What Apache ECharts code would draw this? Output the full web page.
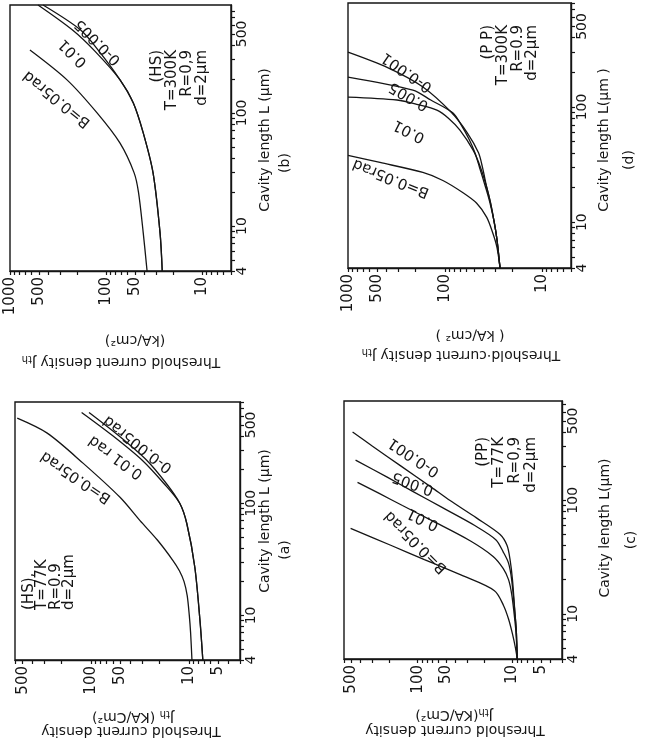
<!DOCTYPE html>
<html><head><meta charset="utf-8">
<script src="https://cdn.jsdelivr.net/npm/echarts@6/dist/echarts.min.js"></script>
<style>html,body{margin:0;padding:0;background:#fff}#c{width:656px;height:751px}</style>
</head><body><div id="c"></div>
<script>
// ---------- tick values ----------
const jTicks77 = [3,4,5,6,7,8,9,10,20,30,40,50,60,70,80,90,100,200,300,400,500,600];
const jTicks300 = [5,6,7,8,9,10,20,30,40,50,60,70,80,90,100,200,300,400,500,600,700,800,900,1000];
const lTicks = [4,5,6,7,8,9,10,20,30,40,50,60,70,80,90,100,200,300,400,500,600,700,800];
const jLabelsA = [5,10,50,100,500];
const jLabelsB = [10,50,100,500,1000];
const jLabelsC = [5,10,50,100,500];
const jLabelsD = [10,100,500,1000];
const lLabels = [4,10,100,500];

// ---------- panel (a) HS, 77K ----------
const aB005_L = [4, 7, 10, 15, 20, 25, 31, 47, 70, 113, 228, 422, 574];
const aB005_J = [9.3, 9.6, 9.9, 10.4, 11.2, 12.5, 14.6, 21, 31.6, 50.6, 121, 281, 569];
const aB001_L = [4, 9, 27, 66, 100, 150, 242, 400, 646];
const aB001_J = [7.2, 7.7, 8.7, 10.5, 12.4, 18, 30, 60, 125];
const aB0_L   = [4, 9, 27, 66, 100, 150, 242, 400, 646];
const aB0_J   = [7.2, 7.7, 8.7, 10.5, 12.4, 17, 27, 52, 105];

// ---------- panel (b) HS, 300K ----------
const bB005_L = [4, 8.7, 20, 29.5, 54, 100, 196, 360];
const bB005_J = [37.4, 41, 46, 51, 71.5, 124, 255, 620];
const bB001_L = [4, 8.7, 29.5, 66.6, 122.5, 196, 350, 543, 900];
const bB001_J = [26, 27.4, 32.4, 41, 52, 71.5, 130, 225, 511];
const bB0_L   = [4, 8.7, 29.5, 66.6, 122.5, 196, 350, 543, 900];
const bB0_J   = [26, 27.4, 32.4, 41, 52, 71.5, 118, 185, 453];

// ---------- panel (c) PP, 77K ----------
const cB005_L  = [4, 5, 6.65, 9, 11.8, 16, 22, 30, 40, 56.5];
const cB005_J  = [8.9, 9.3, 10, 11, 12.4, 15.5, 35, 85, 190, 511];
const cB001_L  = [4, 7, 10, 15, 20, 25, 32, 44, 66.5, 90, 115, 144];
const cB001_J  = [8.9, 9.2, 9.6, 10.2, 11, 12.5, 16, 28, 71.5, 145, 255, 432];
const cB0005_L = [4, 7, 10, 20, 28, 35, 45, 60, 87, 120, 160, 226];
const cB0005_J = [8.9, 9.1, 9.4, 10.2, 11, 12.5, 15, 25, 56, 113, 210, 453];
const cB0_L    = [4, 7, 10, 20, 30, 40, 50, 70, 100, 130, 200, 300, 400];
const cB0_J    = [8.9, 9.1, 9.4, 10, 10.6, 11.4, 13.5, 24, 46, 71.5, 150, 300, 487];

// ---------- panel (d) PP, 300K ----------
const dB005_L  = [4, 6, 8, 11, 14.6, 18, 23, 27, 33, 38];
const dB005_J  = [27, 29, 32, 37, 47, 65, 105, 169, 468, 1000];
const dB001_L  = [4, 7, 10, 15, 20, 30, 42, 63, 80, 94, 105, 115, 122];
const dB001_J  = [27, 29, 31, 34, 37, 43, 51, 70, 92, 121, 190, 312, 1000];
const dB0005_L = [4, 7, 10, 15, 20, 30, 40, 52, 70, 89, 115, 140, 182];
const dB0005_J = [27, 29, 31, 34.5, 38, 44, 49, 56, 68, 83, 140, 214, 1000];
const dB0_L    = [4, 7, 10, 15, 20, 30, 40, 60, 90, 150, 220, 300];
const dB0_J    = [27, 29, 31, 34, 37, 41, 45, 59, 86, 170, 390, 1000];

const lg = Math.log10;
const FONT = '"DejaVu Sans", "Liberation Sans", sans-serif';
const INK = '#151515';

const panels = [
  {grid:{left:15, top:402, width:225, height:258}, jMin:3, jMax:600, lMax:800, jTicks:jTicks77, jLabels:jLabelsA,
   curves:[[aB005_L,aB005_J],[aB001_L,aB001_J],[aB0_L,aB0_J]]},
  {grid:{left:10, top:5, width:221, height:266}, jMin:5, jMax:1000, lMax:900, jTicks:jTicks300, jLabels:jLabelsB,
   curves:[[bB005_L,bB005_J],[bB001_L,bB001_J],[bB0_L,bB0_J]]},
  {grid:{left:344, top:401, width:218, height:258}, jMin:3, jMax:600, lMax:750, jTicks:jTicks77, jLabels:jLabelsC,
   curves:[[cB005_L,cB005_J],[cB001_L,cB001_J],[cB0005_L,cB0005_J],[cB0_L,cB0_J]]},
  {grid:{left:348, top:3, width:223, height:265}, jMin:5, jMax:1000, lMax:800, jTicks:jTicks300, jLabels:jLabelsD,
   curves:[[dB005_L,dB005_J],[dB001_L,dB001_J],[dB0005_L,dB0005_J],[dB0_L,dB0_J]]}
];

const grids = [], xAxes = [], yAxes = [], series = [];
const fmt = v => String(Math.round(Math.pow(10, v)));
panels.forEach((p, i) => {
  grids.push(Object.assign({show:true, borderColor:INK, borderWidth:1.4, backgroundColor:'transparent'}, p.grid));
  xAxes.push({
    type:'value', gridIndex:i, inverse:true, position:'bottom',
    min:lg(p.jMin), max:lg(p.jMax),
    splitLine:{show:false},
    axisLine:{show:true, onZero:false, lineStyle:{color:INK, width:1.4}},
    axisTick:{show:true, inside:false, length:4, lineStyle:{color:INK, width:1.2}, customValues:p.jTicks.map(lg)},
    axisLabel:{show:true, rotate:90, margin:6, color:INK, fontSize:15, fontFamily:FONT,
      customValues:p.jLabels.map(lg), formatter:fmt}
  });
  yAxes.push({
    type:'value', gridIndex:i, position:'right',
    min:lg(4), max:lg(p.lMax),
    splitLine:{show:false},
    axisLine:{show:true, onZero:false, lineStyle:{color:INK, width:1.4}},
    axisTick:{show:true, inside:false, length:4, lineStyle:{color:INK, width:1.2}, customValues:lTicks.map(lg)},
    axisLabel:{show:true, rotate:90, margin:4, color:INK, fontSize:14, fontFamily:FONT,
      customValues:lLabels.map(lg), formatter:fmt}
  });
  p.curves.forEach(c => {
    series.push({
      type:'line', xAxisIndex:i, yAxisIndex:i, symbol:'none', smooth:0.3, clip:true,
      lineStyle:{color:INK, width:1.3}, silent:true,
      data:c[0].map((L, k) => [lg(c[1][k]), lg(L)])
    });
  });
});

const R = Math.PI / 180;
function txt(x, y, text, rotDeg, size, align, valign, extra) {
  const st = Object.assign({text:text, fill:INK, fontSize:size, fontFamily:FONT,
    align:align, textAlign:align, verticalAlign:valign, textVerticalAlign:valign}, extra || {});
  return {type:'text', x:x, y:y, rotation:rotDeg * R, silent:true, style:st};
}
const sub = {n:{fontSize:14, fontFamily:FONT, fill:INK}, s:{fontSize:10, fontFamily:FONT, fill:INK, padding:[7,0,0,0]}};

const graphics = [
  // J axis titles (upside down)
  txt(133, 717, '{n|J}{s|th}{n| (KA/Cm²)}', 180, 14, 'center', 'middle', {rich:sub}),
  txt(131, 731, 'Threshold current density', 180, 14, 'center', 'middle'),
  txt(135, 340, '(kA/cm²)', 180, 14, 'center', 'middle'),
  txt(121, 362, '{n|Threshold current density J}{s|th}', 180, 14, 'center', 'middle', {rich:sub}),
  txt(470, 335, '( kA/cm² )', 180, 14, 'center', 'middle'),
  txt(461, 355, '{n|Threshold·current density J}{s|th}', 180, 14, 'center', 'middle', {rich:sub}),
  txt(454, 715, '{n|J}{s|th}{n|(KA/Cm²)}', 180, 14, 'center', 'middle', {rich:sub}),
  txt(455, 730, 'Threshold current density', 180, 14, 'center', 'middle'),

  // cavity-length titles and panel letters
  txt(265, 521, 'Cavity length L (μm)', 90, 14, 'center', 'middle'),
  txt(265, 140, 'Cavity length L (μm)', 90, 14, 'center', 'middle'),
  txt(604, 140, 'Cavity length L(μm )', 90, 14, 'center', 'middle'),
  txt(605, 528, 'Cavity length L(μm)', 90, 14, 'center', 'middle'),
  txt(285, 550, '(a)', 90, 14, 'center', 'middle'),
  txt(285, 163, '(b)', 90, 14, 'center', 'middle'),
  txt(629, 160, '(d)', 90, 14, 'center', 'middle'),
  txt(631, 540, '(c)', 90, 14, 'center', 'middle'),

  // parameter blocks
  txt(22, 610, '(HS),\nT=77K\nR=0.9\nd=2μm', 90, 15, 'left', 'top', {lineHeight:13.5}),
  txt(150, 50, '(HS)\nT=300K\nR=0,9\nd=2μm', 90, 15, 'right', 'top', {lineHeight:15}),
  txt(481, 25, '(P P)\nT=300K\nR=0.9\nd=2μm', 90, 15, 'right', 'top', {lineHeight:14.7}),
  txt(475, 437, '(PP)\nT=77K\nR=0,9\nd=2μm', 90, 15, 'right', 'top', {lineHeight:16}),

  // curve labels
  txt(76, 477, 'B=0.05rad', 146, 15, 'center', 'middle'),
  txt(116, 457, '0.01 rad', 144, 15, 'center', 'middle'),
  txt(138, 444, '0-0.005rad', 142, 15, 'center', 'middle'),
  txt(57, 99, 'B=0.05rad', 141, 15, 'center', 'middle'),
  txt(73, 53, '0.01', 135, 15, 'center', 'middle'),
  txt(98, 42, '0-0.005', 135, 15, 'center', 'middle'),
  txt(391, 178, 'B=0.05rad', 158, 15, 'center', 'middle'),
  txt(409, 131, '0.01', 153, 15, 'center', 'middle'),
  txt(409, 96, '0.005', 150, 15, 'center', 'middle'),
  txt(407, 72, '0-0.001', 145, 15, 'center', 'middle'),
  txt(416, 542, 'B=0.05rad', 135, 15, 'center', 'middle'),
  txt(423, 519, '0.01', 154, 15, 'center', 'middle'),
  txt(413, 483, '0.005', 160, 15, 'center', 'middle'),
  txt(414, 457, '0-0.001', 146, 15, 'center', 'middle')
];

const chart = echarts.init(document.getElementById('c'), null, {renderer:'canvas'});
chart.setOption({
  backgroundColor:'#ffffff',
  animation:false,
  grid:grids, xAxis:xAxes, yAxis:yAxes, series:series,
  graphic:{elements:graphics}
});
</script></body></html>
